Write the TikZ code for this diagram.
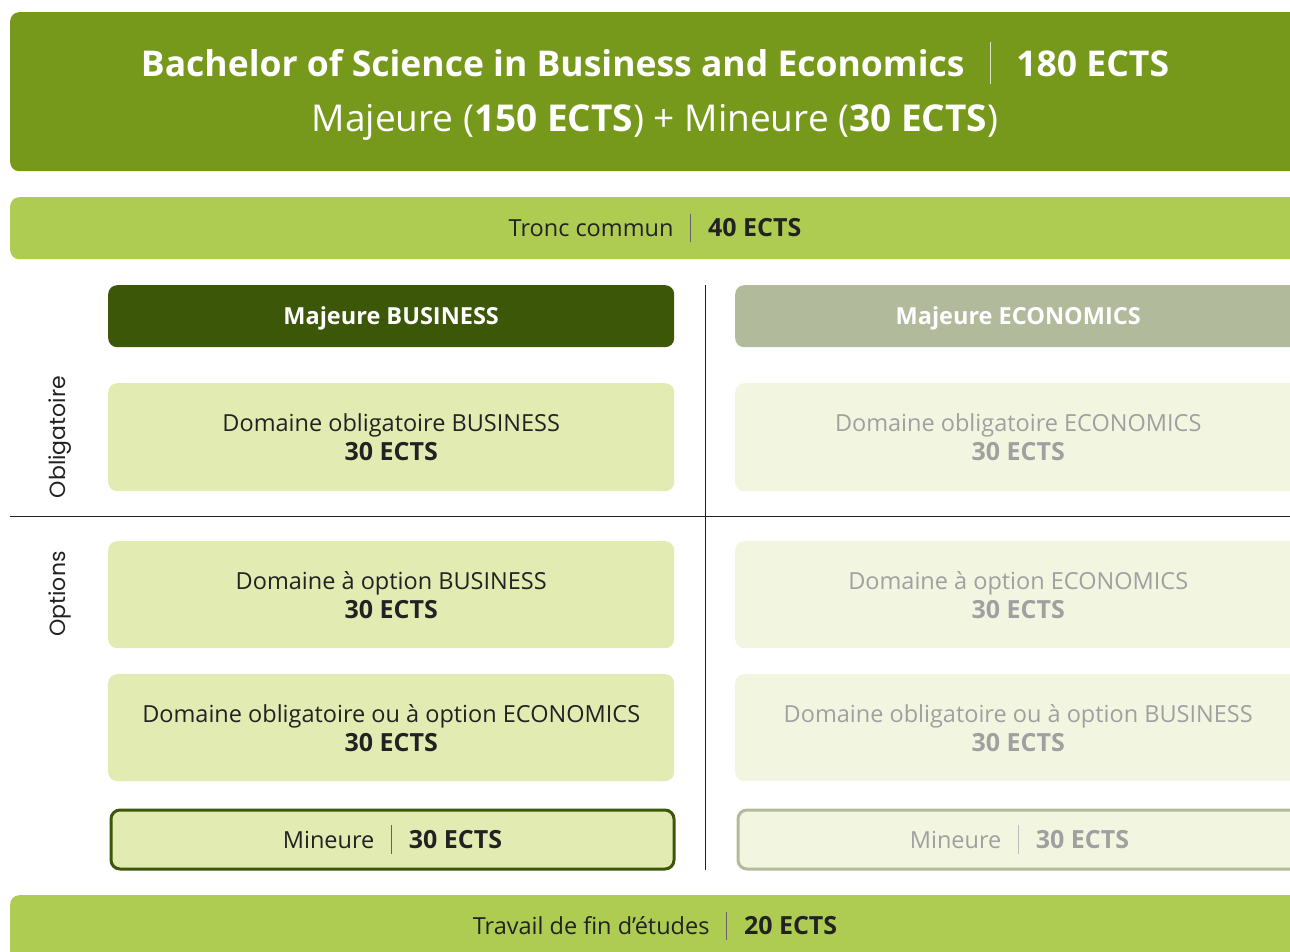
\documentclass[tikz,border=0pt]{standalone}
\usepackage{fontspec}
\setmainfont{Open Sans}
\newfontfamily\popp{Poppins}
\definecolor{titlec}{HTML}{77991B}
\definecolor{troncc}{HTML}{AECB52}
\definecolor{darkc}{HTML}{3D5708}
\definecolor{greyhc}{HTML}{B1BB9C}
\definecolor{lightc}{HTML}{E2EBB2}
\definecolor{paler}{HTML}{F2F6E1}
\definecolor{greytxt}{HTML}{A0A0A0}
\definecolor{txtc}{HTML}{222222}
\newcommand{\sepbar}[1]{\hspace{0.72em}\textcolor{#1}{\rule[-0.22em]{0.7pt}{1.2em}}\hspace{0.72em}}
\newcommand{\bigb}[1]{{\fontsize{25}{29}\selectfont\bfseries #1}}
\tikzset{
  box/.style={rounded corners=9pt, inner sep=0pt, align=center, anchor=north west},
  lbl/.style={inner sep=0pt, align=center},
  sbox/.style={box, minimum width=566pt},
  bodyf/.style={font=\fontsize{23.5}{29}\selectfont},
}
\begin{document}
\begin{tikzpicture}[x=1pt,y=-1pt]
\useasboundingbox (0,0) rectangle (1290,951);
\clip (0,0) rectangle (1290,951);
% title
\node[box, fill=titlec, minimum width=1290pt, minimum height=159pt] (title) at (10,12) {};
\node[lbl, text=white, font=\fontsize{35.5}{40}\selectfont\bfseries] (t1) at (655,63)
  {Bachelor of Science in Business and Economics\sepbar{white!75!titlec}180 ECTS};
\node[lbl, text=white, font=\fontsize{37}{40}\selectfont] (t2) at (655,122)
  {Majeure (\textbf{150 ECTS}) + Mineure (\textbf{30 ECTS})};
% tronc commun
\node[box, fill=troncc, minimum width=1290pt, minimum height=62pt] (tronc) at (10,197) {};
\node[lbl, text=txtc, bodyf] (tt) at (655,228)
  {Tronc commun\sepbar{txtc!70}\bigb{40 ECTS}};
% separators
\coordinate (vtop) at (705,285);
\coordinate (vbot) at (705,870);
\coordinate (hl) at (10,516);
\coordinate (hr) at (1290,516);
\draw[line width=1pt, txtc] (vtop) -- (vbot);
\draw[line width=1pt, txtc] (hl) -- (hr);
% side labels
\node[lbl, rotate=90, text=txtc, font=\popp\fontsize{22}{25}\selectfont] (obl) at (60,437) {Obligatoire};
\node[lbl, rotate=90, text=txtc, font=\popp\fontsize{22}{25}\selectfont] (opt) at (60,594) {Options};
% headers
\node[sbox, fill=darkc, minimum height=62pt] (hb) at (108,285) {};
\node[lbl, text=white, font=\fontsize{23.5}{28}\selectfont\bfseries] at ([yshift=-2pt]hb.center) {Majeure BUSINESS};
\node[sbox, fill=greyhc, minimum height=62pt] (he) at (735,285) {};
\node[lbl, text=white, font=\fontsize{23.5}{28}\selectfont\bfseries] at ([yshift=-2pt]he.center) {Majeure ECONOMICS};
% left column
\node[sbox, fill=lightc, minimum height=108pt] (b1) at (108,383) {};
\node[lbl, text=txtc, bodyf] at (b1.center) {Domaine obligatoire BUSINESS\\\bigb{30 ECTS}};
\node[sbox, fill=lightc, minimum height=107pt] (b2) at (108,541) {};
\node[lbl, text=txtc, bodyf] at (b2.center) {Domaine à option BUSINESS\\\bigb{30 ECTS}};
\node[sbox, fill=lightc, minimum height=107pt] (b3) at (108,674) {};
\node[lbl, text=txtc, bodyf] at (b3.center) {Domaine obligatoire ou à option ECONOMICS\\\bigb{30 ECTS}};
\node[box, fill=lightc, draw=darkc, line width=3pt, minimum width=563pt, minimum height=59pt] (b4) at (109.5,808.5) {};
\node[lbl, text=txtc, bodyf] at (b4.center) {Mineure\sepbar{txtc!70}\bigb{30 ECTS}};
% right column
\node[sbox, fill=paler, minimum height=108pt] (e1) at (735,383) {};
\node[lbl, text=greytxt, bodyf] at (e1.center) {Domaine obligatoire ECONOMICS\\\bigb{30 ECTS}};
\node[sbox, fill=paler, minimum height=107pt] (e2) at (735,541) {};
\node[lbl, text=greytxt, bodyf] at (e2.center) {Domaine à option ECONOMICS\\\bigb{30 ECTS}};
\node[sbox, fill=paler, minimum height=107pt] (e3) at (735,674) {};
\node[lbl, text=greytxt, bodyf] at (e3.center) {Domaine obligatoire ou à option BUSINESS\\\bigb{30 ECTS}};
\node[box, fill=paler, draw=greyhc, line width=3pt, minimum width=563pt, minimum height=59pt] (e4) at (736.5,808.5) {};
\node[lbl, text=greytxt, bodyf] at (e4.center) {Mineure\sepbar{greytxt!70}\bigb{30 ECTS}};
% travail
\node[box, fill=troncc, minimum width=1290pt, minimum height=70pt] (tfe) at (10,895) {};
\node[lbl, text=txtc, bodyf] (tf) at (655,926)
  {Travail de fin d’études\sepbar{txtc!70}\bigb{20 ECTS}};
\end{tikzpicture}
\end{document}
